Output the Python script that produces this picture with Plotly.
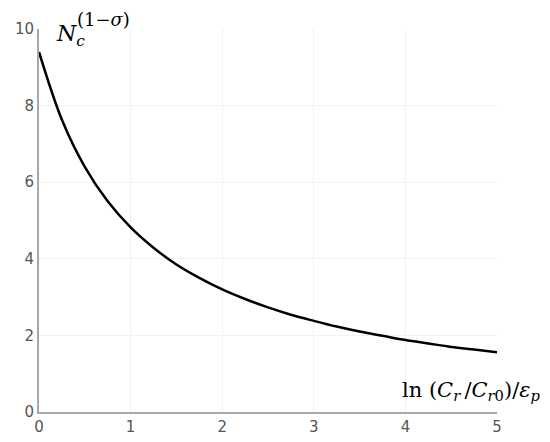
import plotly.graph_objects as go

x_vals = [0, 0.25, 0.5, 0.75, 1.0, 1.25, 1.5, 1.75, 2.0, 2.25, 2.5, 2.75,
          3.0, 3.25, 3.5, 3.75, 4.0, 4.25, 4.5, 4.75, 5.0]
y_vals = [9.40, 7.63, 6.40, 5.50, 4.82, 4.29, 3.85, 3.50, 3.20, 2.95, 2.73, 2.54,
          2.38, 2.23, 2.10, 1.99, 1.88, 1.79, 1.70, 1.63, 1.56]
x_ticks = [0, 1, 2, 3, 4, 5]
y_ticks = [0, 2, 4, 6, 8, 10]

fig = go.Figure()
fig.add_trace(go.Scatter(x=x_vals, y=y_vals, mode="lines",
                         line=dict(color="black", width=2.5, shape="spline"),
                         showlegend=False, hoverinfo="skip"))

axis_common = dict(showline=True, linecolor="#a8a8a8", linewidth=2,
                   showgrid=True, gridcolor="#f2f2f2", gridwidth=1,
                   zeroline=False, ticks="", automargin=False,
                   tickfont=dict(family="DejaVu Sans", size=15, color="#555"))

fig.update_xaxes(range=[0, 5], tickvals=x_ticks, **axis_common)
fig.update_yaxes(range=[0, 10], tickvals=y_ticks, **axis_common)

serif = "DejaVu Serif"
fig.add_annotation(xref="paper", yref="paper", x=0.032, y=0.982,
                   xanchor="left", yanchor="middle", showarrow=False,
                   text="<i>N</i><sub><i>c</i></sub>",
                   font=dict(family=serif, size=22, color="black"))
fig.add_annotation(xref="paper", yref="paper", x=0.078, y=1.026,
                   xanchor="left", yanchor="middle", showarrow=False,
                   text="(1−<i>σ</i>)",
                   font=dict(family=serif, size=18, color="black"))
fig.add_annotation(xref="paper", yref="paper", x=1.10, y=0.055,
                   xanchor="right", yanchor="middle", showarrow=False,
                   text="ln (<i>C</i><sub><i>r</i></sub>\u2009/<i>C</i><sub><i>r</i>0</sub>)/<i>ε</i><sub><i>p</i></sub>",
                   font=dict(family=serif, size=21, color="black"))

# page body has an 8px margin, so the figure is offset by 8px
fig.update_layout(width=542, height=434,
                  margin=dict(l=31, r=53, t=21, b=30),
                  plot_bgcolor="white", paper_bgcolor="white")

fig.write_html("out.html")
